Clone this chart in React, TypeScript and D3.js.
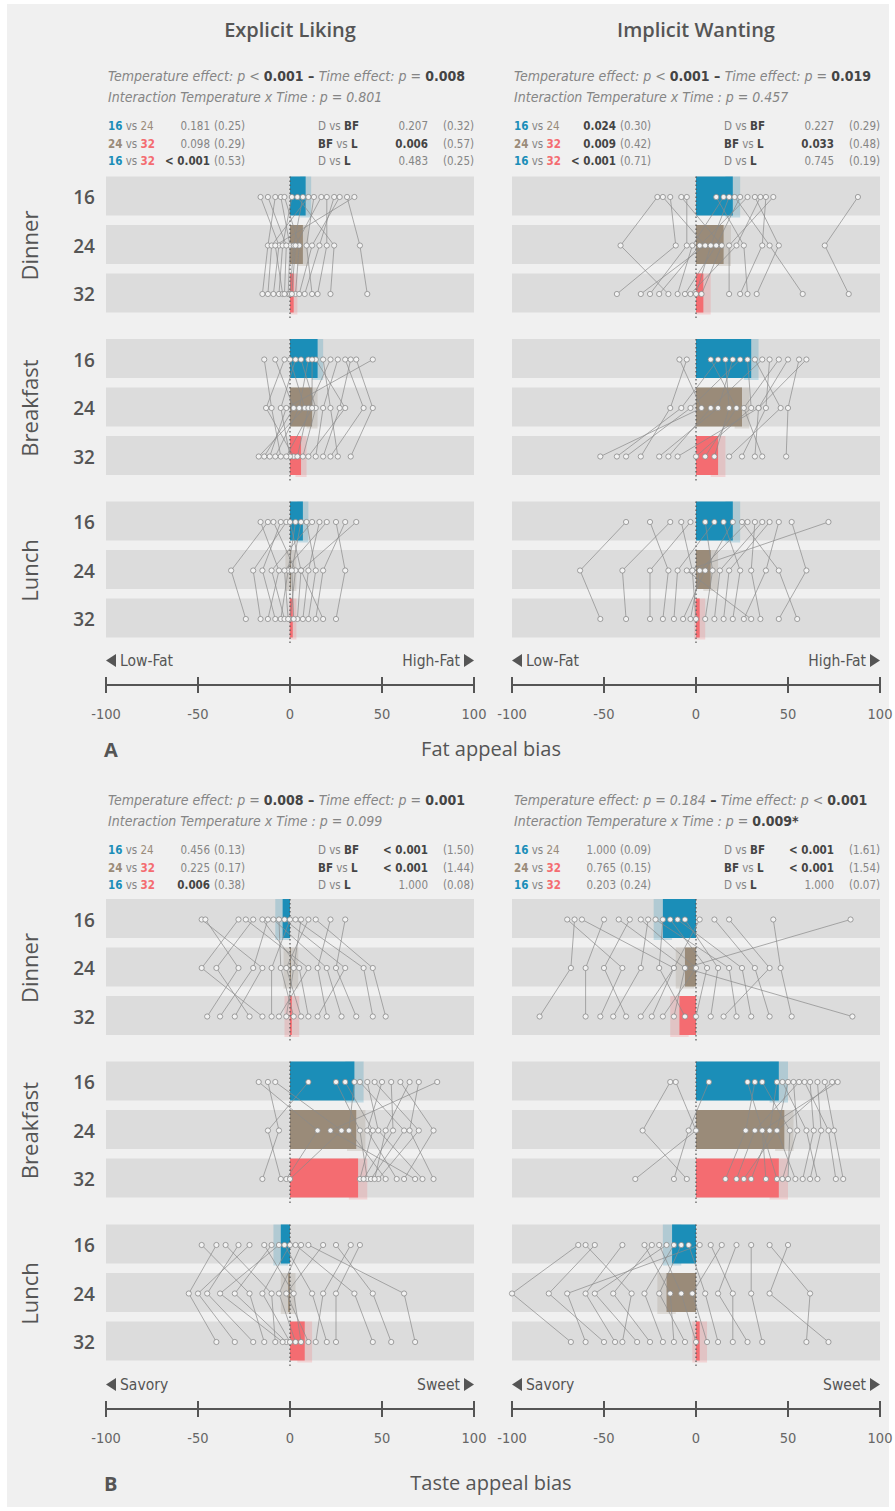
import React from 'react';
import * as d3 from 'd3';

const W = 895, H = 1511;
const FONT = "'Liberation Sans Narrow','DejaVu Sans Condensed','DejaVu Sans',sans-serif";
const HEAD_FONT = "'Open Sans','DejaVu Sans',sans-serif";
const temps = ['16', '24', '32'];
const meals = ['Dinner', 'Breakfast', 'Lunch'];
const tickValues = [-100, -50, 0, 50, 100];
const tempColors = ['#1b8eb8', '#9a8b79', '#f46c71'];
const columnTitles = ['Explicit Liking', 'Implicit Wanting'];

// ---------- individual data (rows: 16, 24, 32 °C; columns: participants) ----------
const fatLikingDinner = [
  [-16, -8, -5, -3, 1, 31, 7, 10, 13, 17, 24, 27, 4, 35, -12, 20],
  [-6, -12, 0, 5, -4, 38, 2, -10, 9, 3, 16, 12, 24, -8, -2, 20],
  [-9, -15, -1, 3, -6, 42, 0, -12, 12, 1, 8, 5, 22, -4, -3, 15],
];
const fatLikingBreakfast = [
  [-14, -8, -3, 0, 3, 6, 10, 14, 18, 22, 26, 30, 33, 36, 45, 12],
  [-10, 2, -13, 8, -5, 14, 5, 30, 22, 10, 18, 40, 27, 45, -2, 12],
  [-5, -14, 2, -17, 0, 7, -8, 10, 26, 4, 14, 22, 18, 33, -11, -2],
];
const fatLikingLunch = [
  [-16, -12, -9, -5, -2, 0, 3, 6, 9, 12, 16, 20, 25, 30, 36],
  [-6, -32, 3, -15, -20, 6, -1, 1, 14, -10, 10, -3, 30, 18, 6],
  [-12, -24, 0, -8, -16, 4, -5, 2, 10, -3, 7, -1, 25, 14, 18],
];
const fatWantingDinner = [
  [-21, -18, -14, -8, -5, 11, 15, 18, 21, 24, 28, 32, 35, 38, 42, 88],
  [-41, 5, -11, 14, -5, 26, -2, 8, 40, 11, 2, 45, 22, 36, 18, 70],
  [-15, -30, -43, 3, -25, 28, -10, 0, 58, -6, -20, 33, -3, 24, 18, 83],
];
const fatWantingBreakfast = [
  [-9, -5, 8, 12, 16, 20, 28, 32, 36, 40, 45, 50, 56, 24, 60],
  [3, -14, 22, -8, 18, 12, 30, 46, 8, 38, 26, 34, 50, -3, 34],
  [-52, -30, 5, -43, 10, -20, 0, 18, -15, 25, 36, -10, 49, -38, 32],
];
const fatWantingLunch = [
  [-38, -25, -14, -8, -3, 5, 10, 15, 20, 25, 28, 32, 36, 40, 45, 52, 72],
  [-63, -15, -40, -2, -25, 9, -10, 24, 5, 45, 2, 30, 13, 18, 38, 60, -5],
  [-52, -18, -38, 0, -25, 5, -12, 20, -7, 55, -3, 35, 10, 15, 26, 45, 30],
];
const tasteLikingDinner = [
  [-48, -46, -28, -24, -20, -15, -12, -9, -6, -3, 0, 3, 6, 10, 14, 22, 30],
  [-15, -28, -48, 10, -40, 5, -20, 20, -5, 30, -10, 40, 2, -2, 45, 15, 25],
  [-30, -45, -15, -6, -22, 10, -38, 28, 2, 15, -10, 45, -2, 6, 52, 20, 36],
];
const tasteLikingBreakfast = [
  [-17, -12, -8, 10, 25, 30, 35, 38, 42, 46, 50, 55, 60, 65, 70, 80],
  [15, -6, 28, -12, 38, 45, 32, 62, 48, 70, 42, 56, 78, 52, 65, 22],
  [-2, -15, 0, -5, 42, 38, 52, 44, 72, 48, 58, 40, 62, 46, 78, 68],
];
const tasteLikingLunch = [
  [-48, -40, -35, -28, -22, -14, -10, -6, -3, 0, 3, 6, 10, 18, 25, 33, 38],
  [-22, -55, -10, -45, -50, 2, -30, -38, 12, -15, 35, -6, 62, -2, 45, 18, 25],
  [-14, -40, -8, -20, -30, 6, -2, -4, 20, 0, 45, 3, 68, 10, 55, 14, 25],
];
const tasteWantingDinner = [
  [-70, -66, -62, -50, -42, -36, -30, -26, -22, -18, -14, -10, -6, 2, 10, 18, 42, 84],
  [-40, -68, -12, -60, -6, -50, 0, -30, 18, -20, 6, 25, 12, -12, 32, 40, 46, -6],
  [-52, -85, -30, -60, -12, -38, -18, -45, 22, -6, 0, 30, 8, -24, 40, 15, 52, 85],
];
const tasteWantingBreakfast = [
  [-14, -11, 7, 28, 32, 36, 44, 47, 50, 53, 56, 59, 62, 66, 70, 74, 77],
  [-29, 0, -4, 36, 27, 51, 40, 60, 44, 55, 32, 72, 64, 68, 75, 44, 36],
  [-5, -33, -12, 38, 16, 50, 30, 66, 26, 47, 22, 76, 58, 62, 80, 54, 44],
];
const tasteWantingLunch = [
  [-64, -60, -55, -28, -24, -20, -16, -12, -8, -4, 2, 8, 14, 22, 30, 40, 50, -40],
  [-100, -35, -80, -14, -45, -8, -55, -28, -20, 5, -70, 20, -2, 12, 30, 62, 40, -60],
  [-68, -40, -50, -12, -25, 0, -32, -18, -6, 12, -60, 20, 6, 28, 36, 60, 72, -44],
];

// ---------- bar means (rows: Dinner, Breakfast, Lunch; cols 16, 24, 32) ----------
const fatLikingMeans = [[8.5, 7, 2], [15, 12, 6], [7, 0.5, 1.5]];
const fatWantingMeans = [[20, 15, 4], [30, 25, 12], [20, 8, 2]];
const tasteLikingMeans = [[-4, 0.5, 1], [35, 36, 37], [-5, -1, 8]];
const tasteWantingMeans = [[-18, -6, -9], [45, 48, 45], [-13, -16, 2]];
const fatLikingSE = [[3, 3, 2], [3, 3, 3], [3, 3, 2]];
const fatWantingSE = [[4, 4, 4], [4, 4, 4], [4, 4, 3]];
const tasteLikingSE = [[4, 4, 4], [5, 5, 5], [4, 4, 4]];
const tasteWantingSE = [[5, 5, 5], [5, 5, 5], [5, 5, 4]];

// ---------- statistics text ----------
// [operator, value, bold]
const fatLikingEffects = [['<', '0.001', true], ['=', '0.008', true], ['=', '0.801', false]];
const fatWantingEffects = [['<', '0.001', true], ['=', '0.019', true], ['=', '0.457', false]];
const tasteLikingEffects = [['=', '0.008', true], ['=', '0.001', true], ['=', '0.099', false]];
const tasteWantingEffects = [['=', '0.184', false], ['<', '0.001', true], ['=', '0.009*', true]];

const fatLikingTempTests = [['0.181', '(0.25)'], ['0.098', '(0.29)'], ['< 0.001', '(0.53)']];
const fatLikingMealTests = [['0.207', '(0.32)'], ['0.006', '(0.57)'], ['0.483', '(0.25)']];
const fatWantingTempTests = [['0.024', '(0.30)'], ['0.009', '(0.42)'], ['< 0.001', '(0.71)']];
const fatWantingMealTests = [['0.227', '(0.29)'], ['0.033', '(0.48)'], ['0.745', '(0.19)']];
const tasteLikingTempTests = [['0.456', '(0.13)'], ['0.225', '(0.17)'], ['0.006', '(0.38)']];
const tasteLikingMealTests = [['< 0.001', '(1.50)'], ['< 0.001', '(1.44)'], ['1.000', '(0.08)']];
const tasteWantingTempTests = [['1.000', '(0.09)'], ['0.765', '(0.15)'], ['0.203', '(0.24)']];
const tasteWantingMealTests = [['< 0.001', '(1.61)'], ['< 0.001', '(1.54)'], ['1.000', '(0.07)']];

const tempPairs = [[0, 1], [1, 2], [0, 2]];
const mealPairs = [['D', 'BF'], ['BF', 'L'], ['D', 'L']];

const GRAY = '#858585';
const DARK = '#444';

const xLeft = d3.scaleLinear().domain([-100, 100]).range([106, 474]);
const xRight = d3.scaleLinear().domain([-100, 100]).range([512, 880]);

const ROW_STEP = 48.5;
const BAND_H = 39;

const isSig = (p: string) => p.startsWith('<') || parseFloat(p) < 0.05;

function Group({ x, cy, data, means, ses }: any) {
  const rowsY = [0, 1, 2].map(i => cy + i * ROW_STEP);
  const x0 = x(0);
  const line = d3.line<[number, number]>().x(d => d[0]).y(d => d[1]);
  const n = data[0].length;
  const paths = d3.range(n).map(i => line(rowsY.map((ry, r) => [x(data[r][i]), ry] as [number, number])));
  return (
    <g>
      {rowsY.map((ry, r) => (
        <rect key={'b' + r} x={x(-100)} y={ry - BAND_H / 2 - 1} width={x(100) - x(-100)} height={BAND_H} fill="#dcdcdc" />
      ))}
      {rowsY.map((ry, r) => (
        <rect key={'ci' + r} x={x(means[r] - ses[r])} y={ry - BAND_H / 2 - 1} width={x(means[r] + ses[r]) - x(means[r] - ses[r])}
          height={BAND_H + 2} fill={tempColors[r]} opacity={0.22} />
      ))}
      {rowsY.map((ry, r) => (
        <rect key={'bar' + r} x={Math.min(x0, x(means[r]))} y={ry - BAND_H / 2 - 1} width={Math.abs(x(means[r]) - x0)}
          height={BAND_H} fill={tempColors[r]} />
      ))}
      <line x1={x0} x2={x0} y1={rowsY[0] - BAND_H / 2 - 1} y2={rowsY[2] + BAND_H / 2 + 5} stroke="#555" strokeWidth={1.2} strokeDasharray="1.5 2.5" />
      {paths.map((p, i) => (
        <path key={'p' + i} d={p || ''} fill="none" stroke="#8a8a8a" strokeWidth={0.7} />
      ))}
      {rowsY.map((ry, r) => data[r].map((v: number, i: number) => (
        <circle key={'c' + r + '-' + i} cx={x(v)} cy={ry} r={2.6} fill="#f2f2f2" stroke="#8a8a8a" strokeWidth={0.8} />
      )))}
    </g>
  );
}

function Stats({ x, y, effects, tempTests, mealTests }: any) {
  const x0 = x(-100);
  const it = { fontStyle: 'italic' as const, fill: GRAY };
  const b = { fontWeight: 700, fill: DARK, fontStyle: 'normal' as const };
  const val = (e: any) => (e[2]
    ? <><tspan {...it}>{e[0] + ' '}</tspan><tspan {...b}>{e[1]}</tspan></>
    : <tspan {...it}>{e[0] + ' ' + e[1]}</tspan>);
  return (
    <g fontFamily={FONT}>
      <text x={x0 + 2} y={y} fontSize={14}>
        <tspan {...it}>Temperature effect: p </tspan>{val(effects[0])}
        <tspan {...b}> – </tspan>
        <tspan {...it}>Time effect: p </tspan>{val(effects[1])}
      </text>
      <text x={x0 + 2} y={y + 21} fontSize={14}>
        <tspan {...it}>Interaction Temperature x Time : p </tspan>{val(effects[2])}
      </text>
      {tempTests.map((t: string[], i: number) => {
        const ty = y + 49 + i * 17.5;
        const [a, c] = tempPairs[i];
        return (
          <g key={'t' + i} fontSize={11.5}>
            <text x={x0 + 2} y={ty}>
              <tspan fill={tempColors[a]} fontWeight={700}>{temps[a]}</tspan>
              <tspan fill={GRAY}> vs </tspan>
              <tspan fill={tempColors[c]} fontWeight={c === 1 ? 400 : 700}>{temps[c]}</tspan>
            </text>
            <text x={x0 + 104} y={ty} textAnchor="end" fill={isSig(t[0]) ? DARK : GRAY} fontWeight={isSig(t[0]) ? 700 : 400}>{t[0]}</text>
            <text x={x0 + 108} y={ty} fill={GRAY}>{t[1]}</text>
          </g>
        );
      })}
      {mealTests.map((t: string[], i: number) => {
        const ty = y + 49 + i * 17.5;
        const [a, c] = mealPairs[i];
        return (
          <g key={'m' + i} fontSize={11.5}>
            <text x={x0 + 212} y={ty}>
              <tspan fill={a === 'D' ? GRAY : DARK} fontWeight={a === 'D' ? 400 : 700}>{a}</tspan>
              <tspan fill={GRAY}> vs </tspan>
              <tspan fill={DARK} fontWeight={700}>{c}</tspan>
            </text>
            <text x={x0 + 322} y={ty} textAnchor="end" fill={isSig(t[0]) ? DARK : GRAY} fontWeight={isSig(t[0]) ? 700 : 400}>{t[0]}</text>
            <text x={x0 + 368} y={ty} textAnchor="end" fill={GRAY}>{t[1]}</text>
          </g>
        );
      })}
    </g>
  );
}

function Axis({ x, y, low, high }: any) {
  const x0 = x(-100), x1 = x(100);
  return (
    <g fontFamily={FONT}>
      <path d={`M${x0 + 10},${y - 31} L${x0},${y - 24.5} L${x0 + 10},${y - 18} Z`} fill="#555" />
      <text x={x0 + 14} y={y - 19} fontSize={15.5} fill="#555">{low}</text>
      <path d={`M${x1 - 10},${y - 31} L${x1},${y - 24.5} L${x1 - 10},${y - 18} Z`} fill="#555" />
      <text x={x1 - 14} y={y - 19} fontSize={15.5} fill="#555" textAnchor="end">{high}</text>
      <line x1={x0} x2={x1} y1={y} y2={y} stroke="#555" strokeWidth={2.2} />
      {tickValues.map(t => (
        <g key={t}>
          <line x1={x(t)} x2={x(t)} y1={y - 8} y2={y + 8} stroke="#555" strokeWidth={2} />
          <text x={x(t)} y={y + 34} fontSize={14.5} fill="#666" textAnchor="middle">{t}</text>
        </g>
      ))}
    </g>
  );
}

const parts = [
  {
    letter: 'A', title: 'Fat appeal bias', low: 'Low-Fat', high: 'High-Fat',
    centers: [197, 359.5, 522], statsY: 81, axisY: 685, titleY: 757,
    panels: [
      { x: xLeft, groups: [fatLikingDinner, fatLikingBreakfast, fatLikingLunch], means: fatLikingMeans, ses: fatLikingSE,
        effects: fatLikingEffects, tempTests: fatLikingTempTests, mealTests: fatLikingMealTests },
      { x: xRight, groups: [fatWantingDinner, fatWantingBreakfast, fatWantingLunch], means: fatWantingMeans, ses: fatWantingSE,
        effects: fatWantingEffects, tempTests: fatWantingTempTests, mealTests: fatWantingMealTests },
    ],
  },
  {
    letter: 'B', title: 'Taste appeal bias', low: 'Savory', high: 'Sweet',
    centers: [919.5, 1082, 1245], statsY: 805, axisY: 1409, titleY: 1491,
    panels: [
      { x: xLeft, groups: [tasteLikingDinner, tasteLikingBreakfast, tasteLikingLunch], means: tasteLikingMeans, ses: tasteLikingSE,
        effects: tasteLikingEffects, tempTests: tasteLikingTempTests, mealTests: tasteLikingMealTests },
      { x: xRight, groups: [tasteWantingDinner, tasteWantingBreakfast, tasteWantingLunch], means: tasteWantingMeans, ses: tasteWantingSE,
        effects: tasteWantingEffects, tempTests: tasteWantingTempTests, mealTests: tasteWantingMealTests },
    ],
  },
];

export default function App() {
  return (
    <svg width={W} height={H} style={{ position: 'absolute', left: 0, top: 0, background: '#fff' }} fontFamily={FONT}>
      <rect x={0} y={0} width={W} height={H} fill="#ffffff" />
      <rect x={7} y={4} width={882} height={1503} fill="#f0f0f0" />
      {columnTitles.map((t, i) => (
        <text key={t} x={i === 0 ? xLeft(0) : xRight(0)} y={37} fontFamily={HEAD_FONT} fontSize={20} fontWeight={600} fill="#555" textAnchor="middle">{t}</text>
      ))}
      {parts.map(part => (
        <g key={part.letter}>
          {part.panels.map((pn, pi) => (
            <g key={pi}>
              <Stats x={pn.x} y={part.statsY} effects={pn.effects} tempTests={pn.tempTests} mealTests={pn.mealTests} />
              {pn.groups.map((g, gi) => (
                <Group key={gi} x={pn.x} cy={part.centers[gi]} data={g} means={pn.means[gi]} ses={pn.ses[gi]} />
              ))}
              <Axis x={pn.x} y={part.axisY} low={part.low} high={part.high} />
            </g>
          ))}
          {part.centers.map((c, gi) => (
            <g key={gi}>
              <text transform={`translate(38,${c + ROW_STEP}) rotate(-90)`} textAnchor="middle" fontFamily={HEAD_FONT} fontSize={22} fill="#555">{meals[gi]}</text>
              {temps.map((t, r) => (
                <text key={t} x={84} y={c + r * ROW_STEP + 7} textAnchor="middle" fontFamily={HEAD_FONT} fontSize={19} fontWeight={600} fill="#555">{t}</text>
              ))}
            </g>
          ))}
          <text x={104} y={part.titleY} fontFamily={HEAD_FONT} fontSize={20} fontWeight={700} fill="#555">{part.letter}</text>
          <text x={491} y={part.titleY - 1} fontFamily={HEAD_FONT} fontSize={20} fill="#555" textAnchor="middle">{part.title}</text>
        </g>
      ))}
    </svg>
  );
}
